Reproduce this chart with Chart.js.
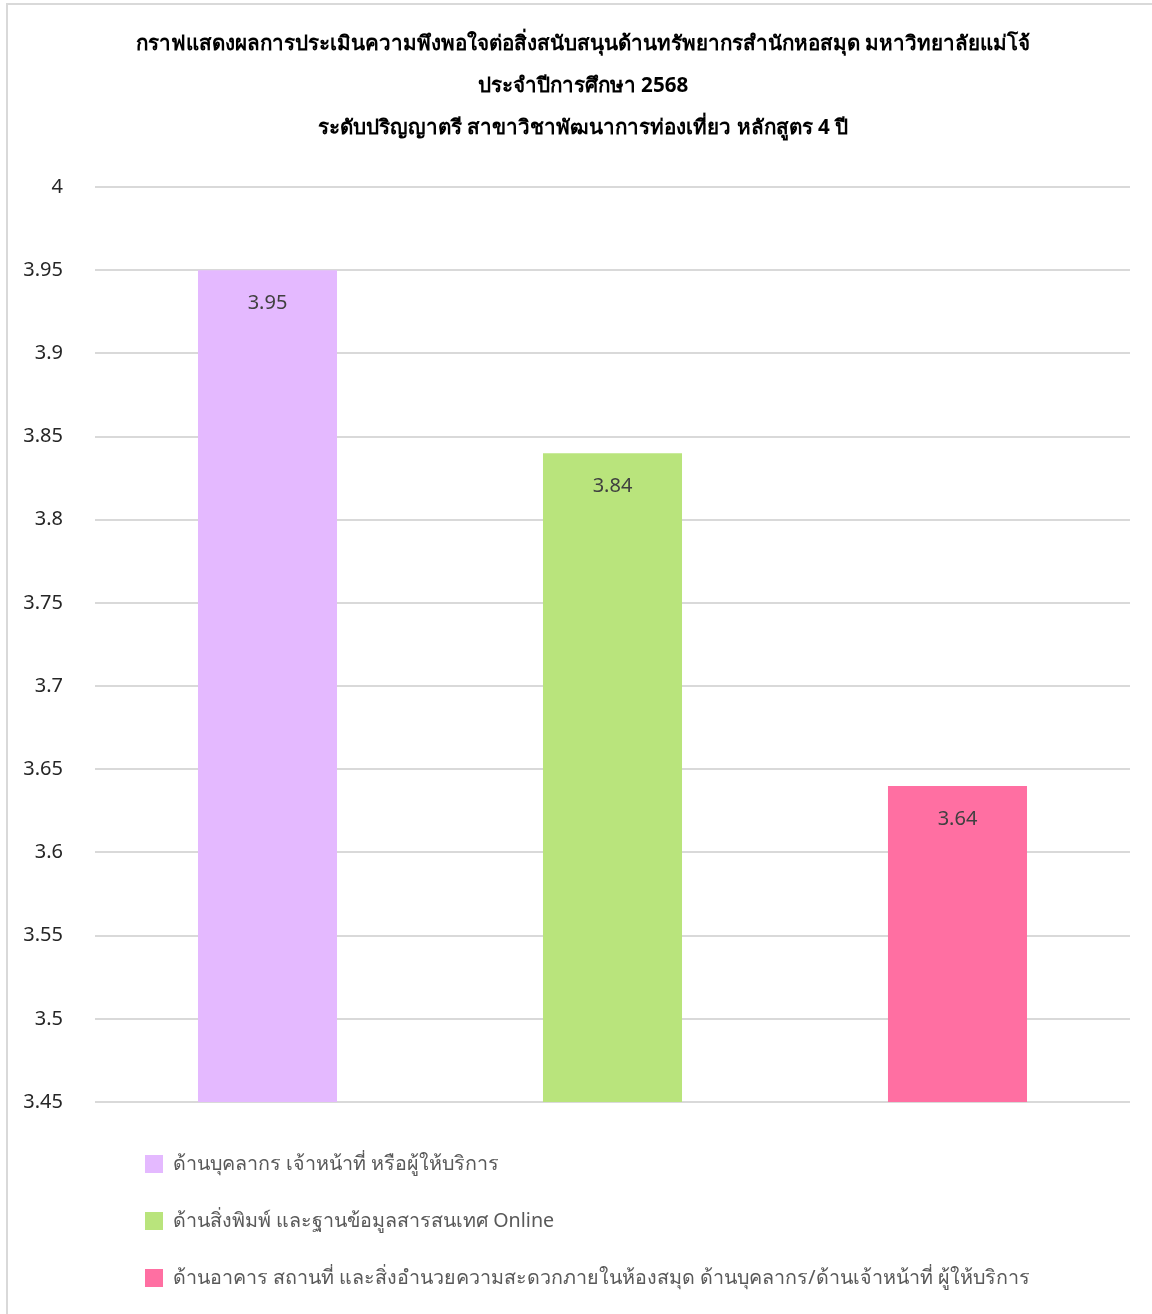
<!DOCTYPE html>
<html>
<head>
<meta charset="utf-8">
<script src="https://cdn.jsdelivr.net/npm/chart.js@4"></script>
<style>
  html, body { margin: 0; padding: 0; background: #ffffff; }
  body { width: 1152px; height: 1314px; position: relative; overflow: hidden; }
  #frame { position: absolute; left: 6px; top: 3px; width: 1200px; height: 1400px;
           border-left: 2px solid #d9d9d9; border-top: 2px solid #d9d9d9; box-sizing: border-box; }
  #wrap { position: absolute; left: 0; top: 0; width: 1152px; height: 1314px; }
</style>
</head>
<body>
<div id="frame"></div>
<div id="wrap"><canvas id="c"></canvas></div>
<script>
const titleLines = [
  'กราฟแสดงผลการประเมินความพึงพอใจต่อสิ่งสนับสนุนด้านทรัพยากรสำนักหอสมุด มหาวิทยาลัยแม่โจ้',
  'ประจำปีการศึกษา 2568',
  'ระดับปริญญาตรี สาขาวิชาพัฒนาการท่องเที่ยว หลักสูตร 4 ปี'
];
const categories = [
  'ด้านบุคลากร เจ้าหน้าที่ หรือผู้ให้บริการ',
  'ด้านสิ่งพิมพ์ และฐานข้อมูลสารสนเทศ Online',
  'ด้านอาคาร สถานที่ และสิ่งอำนวยความสะดวกภายในห้องสมุด ด้านบุคลากร/ด้านเจ้าหน้าที่ ผู้ให้บริการ'
];
const scores = [3.95, 3.84, 3.64];
const barColors = ['#E4B9FF', '#B9E47C', '#FF6FA2'];
const yMin = 3.45, yMax = 4, yStep = 0.05;

const FONT = '"Noto Sans", "DejaVu Sans", sans-serif';

const titleBlock = {
  id: 'titleBlock',
  afterDraw(chart) {
    const ctx = chart.ctx;
    ctx.save();
    ctx.font = 'bold 20.6px ' + FONT;
    ctx.fillStyle = '#000000';
    ctx.textAlign = 'center';
    ctx.textBaseline = 'middle';
    titleLines.forEach((t, i) => ctx.fillText(t, 583, 44 + i * 42));
    ctx.restore();
  }
};

const valueLabels = {
  id: 'valueLabels',
  afterDatasetsDraw(chart) {
    const ctx = chart.ctx;
    const meta = chart.getDatasetMeta(0);
    ctx.save();
    ctx.font = '20px ' + FONT;
    ctx.fillStyle = '#404040';
    ctx.textAlign = 'center';
    ctx.textBaseline = 'middle';
    meta.data.forEach((bar, i) => {
      const v = chart.data.datasets[0].data[i];
      ctx.fillText(v.toFixed(2), bar.x, bar.y + 33);
    });
    ctx.restore();
  }
};

const listLegend = {
  id: 'listLegend',
  afterDraw(chart) {
    const ctx = chart.ctx;
    const labels = chart.data.labels;
    const colors = chart.data.datasets[0].backgroundColor;
    const startY = chart.chartArea.bottom + 62;
    ctx.save();
    ctx.font = '19.7px ' + FONT;
    ctx.textBaseline = 'middle';
    ctx.textAlign = 'left';
    labels.forEach((lab, i) => {
      const cy = startY + i * 57;
      ctx.fillStyle = colors[i];
      ctx.fillRect(145, cy - 9, 18, 18);
      ctx.fillStyle = '#595959';
      ctx.fillText(lab, 173, cy);
    });
    ctx.restore();
  }
};

new Chart(document.getElementById('c'), {
  type: 'bar',
  data: {
    labels: categories,
    datasets: [{
      data: scores,
      backgroundColor: barColors,
      borderWidth: 0,
      categoryPercentage: 1,
      barPercentage: 0.403
    }]
  },
  options: {
    responsive: true,
    maintainAspectRatio: false,
    animation: false,
    layout: { padding: { left: 0, right: 22, top: 187, bottom: 212 } },
    plugins: {
      legend: { display: false },
      tooltip: { enabled: false },
      title: { display: false }
    },
    scales: {
      x: { display: false },
      y: {
        min: yMin,
        max: yMax,
        border: { display: false },
        grid: { color: '#d9d9d9', lineWidth: 2, drawTicks: false },
        afterFit(s) { s.width = 95; },
        ticks: {
          stepSize: yStep,
          padding: 32,
          color: '#262626',
          font: { family: FONT, size: 20 },
          callback(v) { return String(Math.round(v * 100) / 100); }
        }
      }
    }
  },
  plugins: [titleBlock, valueLabels, listLegend]
});
</script>
</body>
</html>
